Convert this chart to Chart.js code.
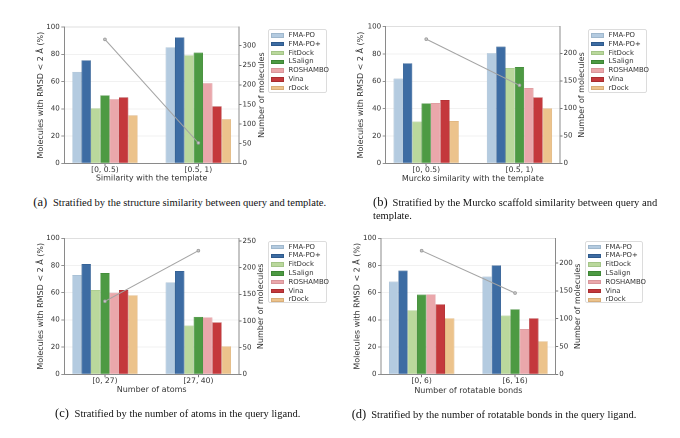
<!DOCTYPE html>
<html>
<head>
<meta charset="utf-8">
<script src="https://cdn.jsdelivr.net/npm/chart.js@4/dist/chart.umd.min.js"></script>
<style>
  html, body { margin:0; padding:0; background:#fff; }
  #wrap { position:relative; width:680px; height:438px; overflow:hidden; background:#fff; }
  canvas { position:absolute; }
  .legend { position:absolute; background:#fff; border:1px solid #dcdcdc; border-radius:2px; box-sizing:border-box; font-family:"DejaVu Sans", sans-serif; font-size:6.9px; color:#333; }
  .legend .row { position:absolute; left:0; height:8.8px; white-space:nowrap; }
  .legend .sw { position:absolute; top:2.2px; width:12.5px; height:4.4px; box-sizing:border-box; }
  .legend .tx { position:absolute; top:0; line-height:8.8px; }
  .cap { position:absolute; font-family:"Liberation Serif", "Times New Roman", serif; font-size:10.5px; color:#111; line-height:13.3px; white-space:nowrap; }
  .cap .lab { display:inline-block; width:19.6px; font-size:12.5px; }
</style>
</head>
<body>
<div id="wrap"></div>
<script>
// ---------------- DATA ----------------
const methods = ['FMA-PO', 'FMA-PO+', 'FitDock', 'LSalign', 'ROSHAMBO', 'Vina', 'rDock'];

// (a) structure similarity with the template
const catsA = ['[0, 0.5)', '[0.5, 1)'];
const valsA = [[67.1, 85.1], [75.6, 92.4], [40.2, 79.3], [49.8, 81.2], [47.1, 58.8], [48.3, 41.7], [35.1, 32.4]];
const countsA = [316, 52];

// (b) Murcko similarity with the template
const catsB = ['[0, 0.5)', '[0.5, 1)'];
const valsB = [[62.0, 80.7], [73.2, 85.4], [30.5, 69.8], [43.9, 70.5], [44.1, 55.1], [46.3, 48.3], [31.0, 40.2]];
const countsB = [226, 142];

// (c) number of atoms
const catsC = ['[0, 27)', '[27, 40)'];
const valsC = [[73.0, 67.6], [81.1, 76.0], [62.0, 35.8], [74.5, 42.2], [60.0, 41.9], [62.0, 38.2], [58.1, 20.6]];
const countsC = [137, 232];

// (d) number of rotatable bonds
const catsD = ['[0, 6)', '[6, 16)'];
const valsD = [[68.1, 71.8], [76.2, 80.1], [47.1, 43.1], [58.6, 47.8], [58.8, 33.3], [51.5, 41.2], [41.2, 24.3]];
const countsD = [222, 146];

const leftTicks = [0, 20, 40, 60, 80, 100];
const rightTicks = [0, 50, 100, 150, 200, 250, 300];

const xTitles = ['Similarity with the template', 'Murcko similarity with the template', 'Number of atoms', 'Number of rotatable bonds'];
const yTitle = 'Molecules with RMSD < 2 Å (%)';
const y2Title = 'Number of molecules';
const captionLabels = ['(a)', '(b)', '(c)', '(d)'];
const captionTexts = [
  'Stratified by the structure similarity between query and template.',
  'Stratified by the Murcko scaffold similarity between query and<br>template.',
  'Stratified by the number of atoms in the query ligand.',
  'Stratified by the number of rotatable bonds in the query ligand.'
];

// ---------------- STYLE / LAYOUT ----------------
const colors = ['#b4cbe0', '#3d6ca3', '#bad89c', '#4d9a43', '#eaa7ab', '#c4383c', '#ecc38c'];
const edges  = ['#9fb7cc', '#2f5a8c', '#a3c487', '#3e8535', '#d8959a', '#a92e31', '#d8ad78'];

const layout = [
  { ox: 0,   oy: 0,   plotL: 64.3, plotR: 239,   plotT: 27,   plotB: 163.3, yTitleX: 40.7, y2TitleX: 261.7, xTitleY: 178.6,
    legend: { l: 268, t: 29, w: 59, h: 64 }, cap: { l: 33.3, t: 196.3 } },
  { ox: 340, oy: 0,   plotL: 45.7, plotR: 220,   plotT: 26.7, plotB: 163.3, yTitleX: 20.7, y2TitleX: 241.7, xTitleY: 179,
    legend: { l: 588, t: 29, w: 59, h: 64 }, cap: { l: 373, t: 196 } },
  { ox: 0,   oy: 212, plotL: 64.3, plotR: 239,   plotT: 26.3, plotB: 162.3, yTitleX: 40.7, y2TitleX: 261,   xTitleY: 178,
    legend: { l: 268, t: 240.7, w: 59, h: 62 }, cap: { l: 55, t: 406.6 } },
  { ox: 340, oy: 212, plotL: 41,   plotR: 215.7, plotT: 26.3, plotB: 162.3, yTitleX: 17.3, y2TitleX: 237.7, xTitleY: 178.7,
    legend: { l: 585, t: 240.7, w: 58, h: 62 }, cap: { l: 351.7, t: 408.3 } }
];

const panelData = [
  { cats: catsA, vals: valsA, counts: countsA },
  { cats: catsB, vals: valsB, counts: countsB },
  { cats: catsC, vals: valsC, counts: countsC },
  { cats: catsD, vals: valsD, counts: countsD }
];

const xTickFont = { family: 'DejaVu Sans', size: 7.6, lineHeight: 1 };
const yTickFont = { family: 'DejaVu Sans', size: 7.1, lineHeight: 1 };
const titleFont = { family: 'DejaVu Sans', size: 8, lineHeight: 1 };
const textColor = '#333';
const spineColor = '#8a8a8a';
const tickColor = '#777';

const y2TitlePlugin = {
  id: 'y2Title',
  afterDraw(chart, args, opts) {
    const { ctx, chartArea } = chart;
    ctx.save();
    ctx.font = `${opts.size}px "${opts.family}"`;
    ctx.fillStyle = opts.color;
    ctx.textAlign = 'center';
    ctx.textBaseline = 'middle';
    ctx.translate(opts.x, (chartArea.top + chartArea.bottom) / 2);
    ctx.rotate(-Math.PI / 2);
    ctx.fillText(opts.text, 0, 0);
    ctx.restore();
  }
};

const wrap = document.getElementById('wrap');
const PW = 340;
const Y2W = 30;

layout.forEach((L, p) => {
  const D = panelData[p];
  const xH = L.xTitleY - L.plotB + titleFont.size * titleFont.lineHeight / 2;
  const H = Math.ceil(L.plotB + xH + 2);
  const padLeft = L.yTitleX - titleFont.size * titleFont.lineHeight / 2;
  const yW = L.plotL - padLeft;
  const padRight = PW - L.plotR - Y2W;

  const cv = document.createElement('canvas');
  cv.width = PW; cv.height = H;
  cv.style.left = L.ox + 'px'; cv.style.top = L.oy + 'px';
  cv.style.width = PW + 'px'; cv.style.height = H + 'px';
  wrap.appendChild(cv);

  const y2Max = Math.max(...D.counts) * 1.1;

  const datasets = [{
    type: 'line',
    label: 'count',
    data: D.counts.map((c, i) => ({ x: i, y: c })),
    yAxisID: 'y2',
    borderColor: '#a3a3a3',
    borderWidth: 1,
    pointRadius: 1.4,
    pointBorderWidth: 0.8,
    pointBorderColor: '#9a9a9a',
    pointBackgroundColor: '#c8c8c8',
    order: -1
  }].concat(methods.map((m, k) => ({
    type: 'bar',
    label: m,
    data: D.vals[k].map((v, i) => ({ x: i, y: v })),
    yAxisID: 'y',
    backgroundColor: colors[k],
    borderColor: edges[k],
    borderWidth: 0.5,
    categoryPercentage: 0.7,
    barPercentage: 1.0,
    order: 0
  })));

  new Chart(cv, {
    data: { datasets },
    options: {
      responsive: false,
      animation: false,
      devicePixelRatio: 2,
      layout: { padding: { left: padLeft, right: padRight, top: L.plotT, bottom: H - L.plotB - xH } },
      plugins: {
        legend: { display: false },
        tooltip: { enabled: false },
        y2Title: { text: y2Title, x: L.y2TitleX, size: titleFont.size, family: titleFont.family, color: textColor }
      },
      scales: {
        x: {
          type: 'linear',
          min: -0.435, max: 1.435,
          offset: false,
          afterFit: (s) => { s.height = xH; },
          afterBuildTicks: (s) => { s.ticks = D.cats.map((c, i) => ({ value: i })); },
          ticks: { font: xTickFont, color: textColor, padding: 0, maxRotation: 0, autoSkip: false,
                   callback: (v) => D.cats[v] },
          grid: { display: true, drawOnChartArea: false, drawTicks: true, tickLength: 3, tickColor: tickColor, offset: false },
          border: { display: true, color: spineColor, width: 1 },
          title: { display: true, text: xTitles[p], font: titleFont, color: textColor, padding: 0 }
        },
        y: {
          type: 'linear', position: 'left',
          min: 0, max: 100,
          afterFit: (s) => { s.width = yW; },
          afterBuildTicks: (s) => { s.ticks = leftTicks.map(v => ({ value: v })); },
          ticks: { font: yTickFont, color: textColor, padding: 1.5 },
          grid: { display: true, drawTicks: true, tickLength: 3, tickColor: tickColor,
                  color: (c) => (c.tick && c.tick.value === 100) ? '#d4d4d4' : (c.tick && c.tick.value === 0 ? 'rgba(0,0,0,0)' : '#ededed'),
                  lineWidth: 0.8 },
          border: { display: true, color: spineColor, width: 1 },
          title: { display: true, text: yTitle, font: titleFont, color: textColor, padding: 0 }
        },
        y2: {
          type: 'linear', position: 'right',
          min: 0, max: y2Max,
          afterFit: (s) => { s.width = Y2W; },
          afterBuildTicks: (s) => { s.ticks = rightTicks.filter(v => v <= y2Max).map(v => ({ value: v })); },
          ticks: { font: yTickFont, color: textColor, padding: 1, callback: (v) => String(v) },
          grid: { display: true, drawOnChartArea: false, drawTicks: true, tickLength: 2.5, tickColor: tickColor },
          border: { display: true, color: spineColor, width: 1 }
        }
      }
    },
    plugins: [y2TitlePlugin]
  });

  // legend (HTML)
  const lg = document.createElement('div');
  lg.className = 'legend';
  lg.style.left = L.legend.l + 'px'; lg.style.top = L.legend.t + 'px';
  lg.style.width = L.legend.w + 'px'; lg.style.height = L.legend.h + 'px';
  methods.forEach((m, k) => {
    const row = document.createElement('div');
    row.className = 'row';
    row.style.top = (1 + k * 8.8) + 'px';
    const sw = document.createElement('div');
    sw.className = 'sw';
    sw.style.left = '2px';
    sw.style.background = colors[k];
    sw.style.border = '0.5px solid ' + edges[k];
    const tx = document.createElement('div');
    tx.className = 'tx';
    tx.style.left = '19.5px';
    tx.textContent = m;
    row.appendChild(sw); row.appendChild(tx);
    lg.appendChild(row);
  });
  wrap.appendChild(lg);

  // caption
  const cap = document.createElement('div');
  cap.className = 'cap';
  cap.style.left = L.cap.l + 'px'; cap.style.top = L.cap.t + 'px';
  cap.innerHTML = '<span class="lab">' + captionLabels[p] + '</span>' + captionTexts[p];
  wrap.appendChild(cap);
});
</script>
</body>
</html>
